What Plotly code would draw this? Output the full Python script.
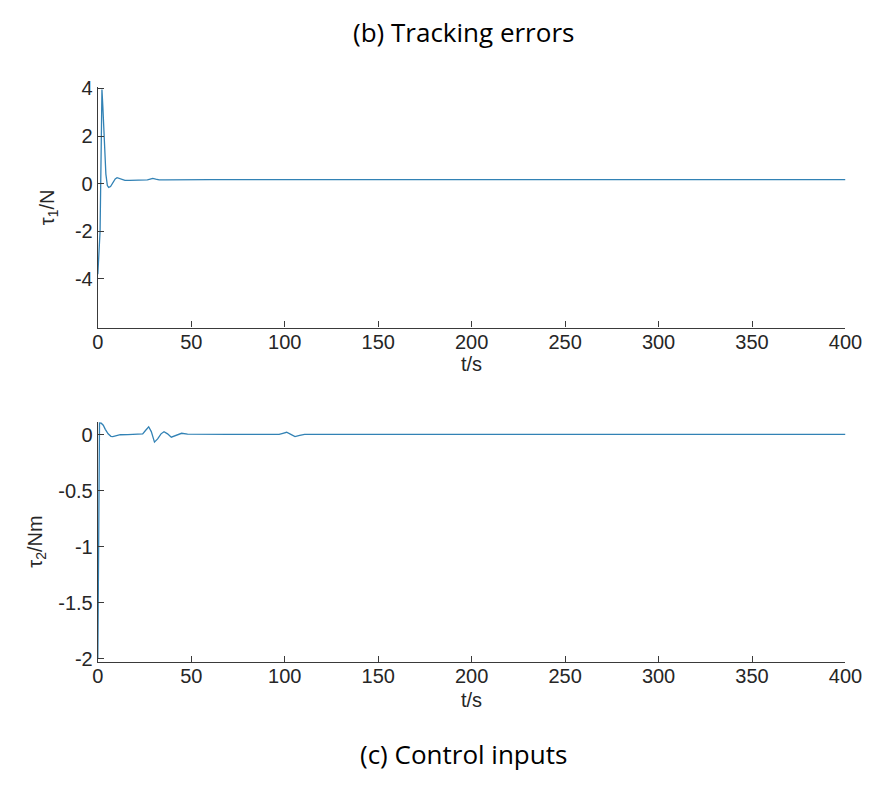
import plotly.graph_objects as go

# Control input tau_1 (N) versus time (s)
t1 = [0.0, 0.6, 1.2, 1.8, 2.2, 2.7, 3.5, 4.3, 5.1, 5.8, 6.8, 8.0, 9.3, 10.3, 11.5, 13.0, 14.5,
      17.0, 20.0, 24.0, 26.5, 28.0, 29.4, 31.0, 32.8, 36.0, 45.0, 60.0, 100.0, 200.0, 300.0, 400.0]
tau1 = [-3.8, -3.0, -2.0, 1.5, 3.95, 3.2, 1.6, 0.4, -0.08, -0.16, -0.12, 0.05, 0.2, 0.25, 0.22, 0.16, 0.14,
        0.14, 0.14, 0.15, 0.16, 0.19, 0.22, 0.19, 0.16, 0.16, 0.17, 0.17, 0.17, 0.17, 0.17, 0.17]

# Control input tau_2 (Nm) versus time (s)
t2 = [0.0, 0.3, 0.6, 0.9, 1.8, 2.9, 4.0, 5.5, 7.0, 8.0, 9.5, 12.0, 16.0, 20.0, 24.0, 25.5, 27.2, 28.6,
      30.3, 32.0, 33.8, 35.4, 37.3, 39.3, 42.0, 44.8, 48.0, 55.0, 70.0, 90.0, 97.0, 99.0, 101.0, 103.0,
      105.5, 108.0, 110.6, 114.0, 130.0, 200.0, 300.0, 400.0]
tau2 = [-2.0, -1.0, 0.05, 0.107, 0.105, 0.087, 0.05, 0.01, -0.012, -0.015, -0.008, 0.002, 0.003, 0.004, 0.01, 0.04, 0.073, 0.03,
        -0.064, -0.035, 0.01, 0.029, 0.01, -0.02, -0.005, 0.015, 0.008, 0.006, 0.006, 0.006, 0.006, 0.015, 0.024, 0.008,
        -0.015, -0.004, 0.006, 0.006, 0.006, 0.006, 0.006, 0.006]

x_ticks = [0, 50, 100, 150, 200, 250, 300, 350, 400]
y1_ticks = [-4, -2, 0, 2, 4]
y1_labels = ["-4", "-2", "0", "2", "4"]
y2_ticks = [-2, -1.5, -1, -0.5, 0]
y2_labels = ["-2", "-1.5", "-1", "-0.5", "0"]

W, H = 880, 780


def px(x):
    return x / W


def py(y):
    return 1 - y / H


LINE = "#3282b5"
AX = "#3a3a3a"
TICK_FONT = dict(family="Liberation Sans, Arial, sans-serif", size=20, color="#262626")

fig = go.Figure()
fig.add_trace(go.Scatter(x=t1, y=tau1, mode="lines", line=dict(color=LINE, width=1.3),
                         xaxis="x", yaxis="y", showlegend=False))
fig.add_trace(go.Scatter(x=t2, y=tau2, mode="lines", line=dict(color=LINE, width=1.3),
                         xaxis="x2", yaxis="y2", showlegend=False))

axis_common = dict(showline=True, linecolor=AX, linewidth=1.2, ticks="inside", ticklen=6,
                   tickcolor=AX, tickwidth=1.2, showgrid=False, zeroline=False,
                   tickfont=TICK_FONT, mirror=False)

x_dom = [px(94.3), px(862)]
fig.update_layout(
    width=W, height=H,
    margin=dict(l=0, r=0, t=0, b=0),
    paper_bgcolor="white", plot_bgcolor="white",
    xaxis=dict(domain=x_dom, range=[0, 400], tickvals=x_ticks, anchor="y",
               ticklabelstandoff=-4, **axis_common),
    yaxis=dict(domain=[py(325), py(79)], range=[-6.04, 4.05], tickvals=y1_ticks,
               ticktext=y1_labels, anchor="x", **axis_common),
    xaxis2=dict(domain=x_dom, range=[0, 400], tickvals=x_ticks, anchor="y2",
                ticklabelstandoff=-4, **axis_common),
    yaxis2=dict(domain=[py(667.7), py(421.7)], range=[-2.03, 0.116], tickvals=y2_ticks,
                ticktext=y2_labels, anchor="x2", **axis_common),
)

label_font = dict(family="Liberation Sans, Arial, sans-serif", size=20, color="#262626")
title_font = dict(family="Open Sans, sans-serif", size=26, color="black")
xc = (x_dom[0] + x_dom[1]) / 2

annotations = [
    dict(text="(b) Tracking errors", x=px(470), y=py(23), font=title_font),
    dict(text="(c) Control inputs", x=px(470), y=py(762), font=title_font),
    dict(text="t/s", x=xc, y=py(362), font=label_font),
    dict(text="t/s", x=xc, y=py(706), font=label_font),
    dict(text="τ<sub>1</sub>/N", x=px(43), y=py(202), textangle=-90, font=label_font),
    dict(text="τ<sub>2</sub>/Nm", x=px(31), y=py(544), textangle=-90, font=label_font),
]
for a in annotations:
    a.update(xref="paper", yref="paper", showarrow=False, xanchor="center", yanchor="middle")
fig.update_layout(annotations=annotations)

fig.write_html("out.html")
